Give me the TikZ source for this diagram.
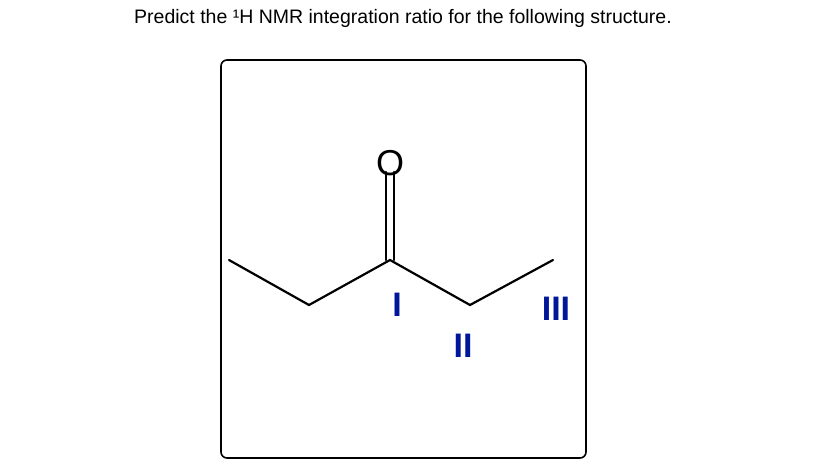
\documentclass[tikz,border=0pt]{standalone}
\usepackage{fontspec}
\setmainfont{Liberation Sans}
\begin{document}
\begin{tikzpicture}[x=1pt,y=-1pt,
  bond/.style={line width=2.2pt,line cap=round},
  lab/.style={text=blue!85!cyan!60!black,font=\fontsize{34}{34}\selectfont\bfseries,inner sep=0},
]
\useasboundingbox (0,0) rectangle (822,467);
\node[anchor=center,inner sep=0,font=\fontsize{19.5}{20}\selectfont] (title) at (403,18) {Predict the ¹H NMR integration ratio for the following structure.};
\draw[line width=1.6pt,rounded corners=6pt] (221,60) rectangle (586,458);
\coordinate (a) at (229,260);
\coordinate (b) at (309,305);
\coordinate (c) at (390,260);
\coordinate (d) at (470,305);
\coordinate (e) at (553,260);
\node[inner sep=0,font=\fontsize{36}{36}\selectfont] (O) at (390,163) {O};
\draw[bond] (a)--(b)--(c)--(d)--(e);
\draw[bond] ([xshift=-4]c) -- ([xshift=-4,yshift=4]O.south);
\draw[bond] ([xshift=4]c) -- ([xshift=4,yshift=4]O.south);
\node[lab] (l1) at (397,305) {I};
\node[lab] (l2) at (463,346) {II};
\node[lab] (l3) at (556,309) {III};
\end{tikzpicture}
\end{document}
